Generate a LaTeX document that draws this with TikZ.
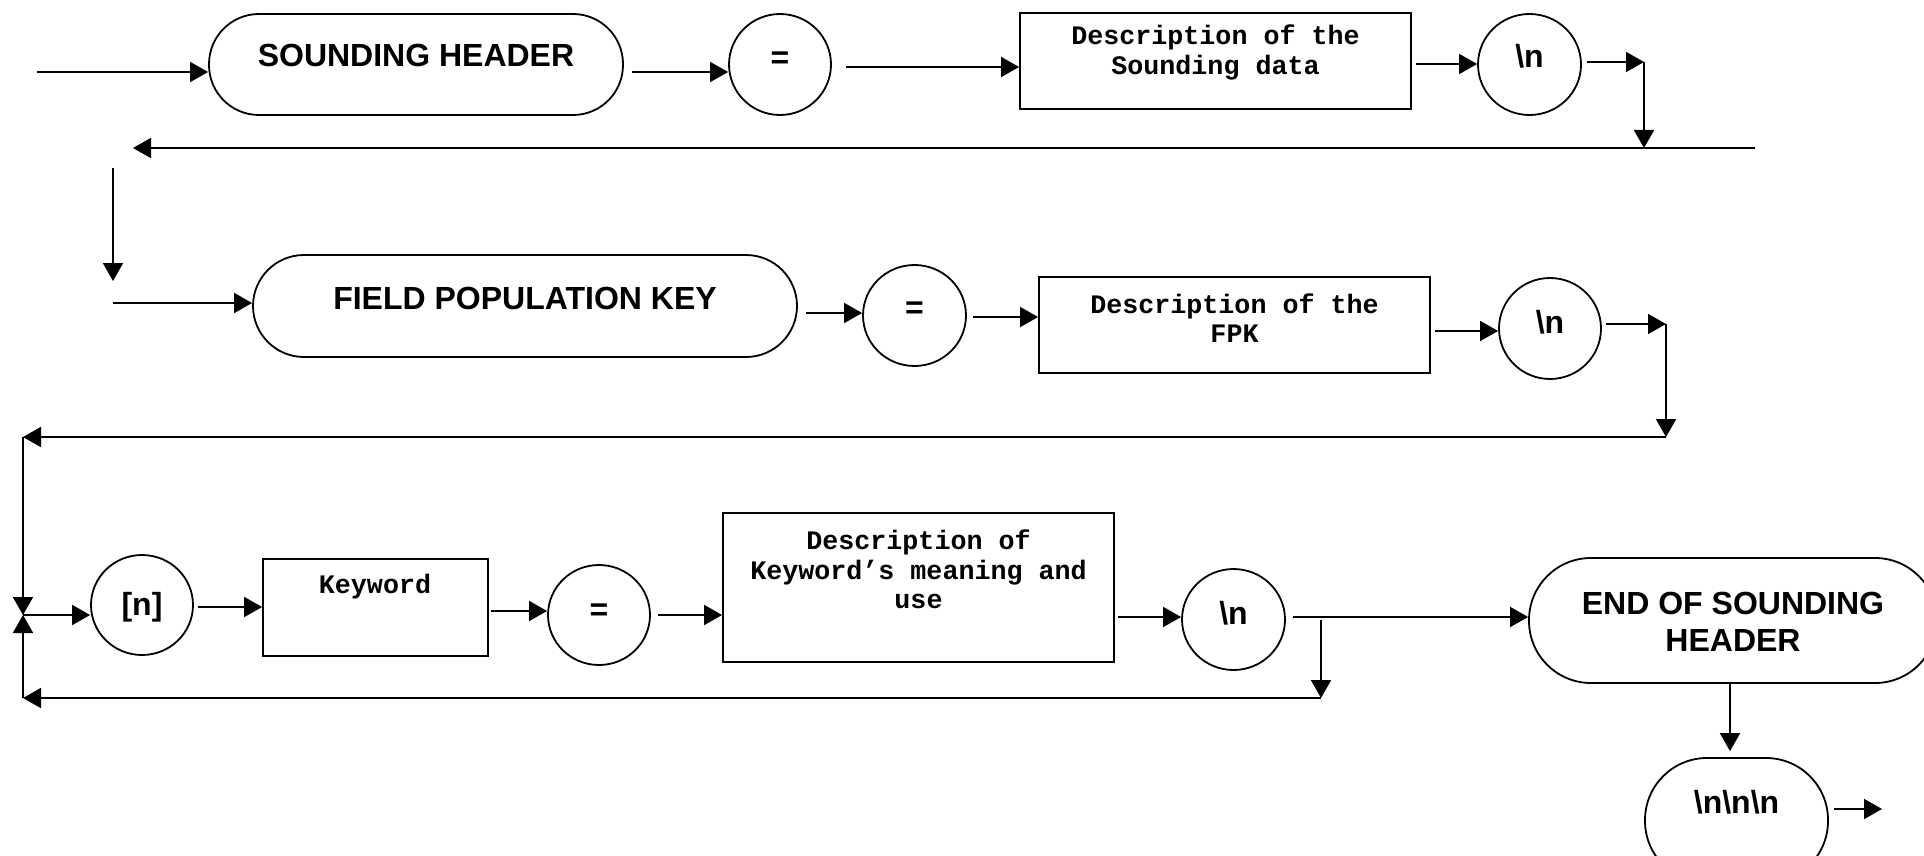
\documentclass[tikz,border=0pt]{standalone}
\usepackage{fontspec}
\setmainfont{Liberation Sans}
\newfontfamily\descfont{Liberation Mono}
\usetikzlibrary{arrows.meta,shapes.geometric}

\begin{document}
\begin{tikzpicture}[x=1pt,y=-1pt,line width=1.8pt,
  term/.style={draw,rectangle,rounded corners=#1,inner sep=0pt},
  oval/.style={draw,ellipse,inner sep=0pt,minimum width=102pt,minimum height=101pt},
  boxed/.style={draw,rectangle,inner sep=0pt},
  arr/.style={-{Triangle[length=18pt,width=20pt]}},
  lbl/.style={font=\bfseries\fontsize{32}{37}\selectfont,align=center,inner sep=0pt},
  mono/.style={font=\descfont\bfseries\fontsize{26.7}{29.5}\selectfont,align=center,inner sep=0pt}]

\fill[white] (0,0) rectangle (1924,856);
\useasboundingbox (0,0) rectangle (1924,856);
\clip (0,0) rectangle (1924,856);

% ---------- first row: sounding header ----------
\node[term=50pt,minimum width=414pt,minimum height=101pt] (sh) at (416,64.5) {};
\node[lbl] (shT) at (416,55) {SOUNDING HEADER};
\node[oval] (eq1) at (780,64.5) {};
\node[lbl] (eq1T) at (780,60) {=};
\node[boxed,minimum width=391pt,minimum height=96pt] (d1) at (1215.5,61) {};
\node[mono] (d1T) at (1215.5,52.5) {Description of the\\Sounding data};
\node[oval,minimum width=103pt] (n1) at (1529.5,64.5) {};
\node[lbl] (n1T) at (1529.5,56) {\textbackslash n};

\coordinate (in0) at (37,72);
\draw[arr] (in0) -- (in0 -| sh.west);
\draw[arr,shorten <=8pt] (sh.east |- 0,72) -- (eq1.west |- 0,72);
\draw[arr,shorten <=14pt] (eq1.east |- 0,67) -- (d1.west |- 0,67);
\draw[arr,shorten <=4pt] (d1.east |- 0,64) -- (n1.west |- 0,64);
\coordinate (c1) at (1644,62);
\coordinate (c2) at (1644,148);
\draw[arr,shorten <=5pt] (n1.east |- c1) -- (c1);
\draw[arr] (c1) -- (c2);
\coordinate (r1) at (1755,148);
\coordinate (l1) at (133,148);
\draw[arr] (r1) -- (l1);
\coordinate (v1) at (113,168);
\coordinate (v2) at (113,281);
\draw[arr] (v1) -- (v2);

% ---------- second row: field population key ----------
\node[term=51pt,minimum width=544pt,minimum height=102pt] (fpk) at (525,306) {};
\node[lbl] (fpkT) at (525,298) {FIELD POPULATION KEY};
\node[oval,minimum width=103pt] (eq2) at (914.5,315.5) {};
\node[lbl] (eq2T) at (914.5,310) {=};
\node[boxed,minimum width=391pt,minimum height=96pt] (d2) at (1234.5,325) {};
\node[mono] (d2T) at (1234.5,318) {Description of the\\FPK};
\node[oval] (n2) at (1550,328.5) {};
\node[lbl] (n2T) at (1550,322) {\textbackslash n};

\coordinate (in1) at (113,303);
\draw[arr] (in1) -- (in1 -| fpk.west);
\draw[arr,shorten <=8pt] (fpk.east |- 0,313) -- (eq2.west |- 0,313);
\draw[arr,shorten <=6pt] (eq2.east |- 0,317) -- (d2.west |- 0,317);
\draw[arr,shorten <=4pt] (d2.east |- 0,331) -- (n2.west |- 0,331);
\coordinate (c3) at (1666,324);
\coordinate (c4) at (1666,437);
\draw[arr,shorten <=4pt] (n2.east |- c3) -- (c3);
\draw[arr] (c3) -- (c4);
\coordinate (t) at (23,437);
\draw[arr] (c4) -- (t);

% ---------- third row: keywords ----------
\node[oval,minimum height=100pt] (brn) at (142,605) {};
\node[lbl] (brnT) at (142,607) {[n]};
\node[boxed,minimum width=225pt,minimum height=97pt] (kw) at (375.5,607.5) {};
\node[mono] (kwT) at (375,587) {Keyword};
\node[oval,minimum height=100pt] (eq3) at (599,615) {};
\node[lbl] (eq3T) at (599,612) {=};
\node[boxed,minimum width=391pt,minimum height=149pt] (d3) at (918.5,587.5) {};
\node[mono] (d3T) at (918.5,569.5) {Description of\\Keyword’s meaning and\\use};
\node[oval,minimum width=103pt] (n3) at (1233.5,619.5) {};
\node[lbl] (n3T) at (1233.5,613) {\textbackslash n};
\node[term=62pt,minimum width=408pt,minimum height=125pt] (eosh) at (1733,620.5) {};
\node[lbl] (eoshT) at (1733,621.5) {END OF SOUNDING\\HEADER};
\node[term=62pt,minimum width=183pt,minimum height=125pt] (nnn) at (1736.5,820.5) {};
\node[lbl] (nnnT) at (1736.5,802) {\textbackslash n\textbackslash n\textbackslash n};

\coordinate (j) at (23,615);
\coordinate (b) at (23,698);
\draw[arr] (t) -- (j);
\draw[arr] (b) -- (j);
\draw[arr] (j) -- (j -| brn.west);
\draw[arr,shorten <=4pt] (brn.east |- 0,607) -- (kw.west |- 0,607);
\draw[arr,shorten <=2pt] (kw.east |- 0,611) -- (eq3.west |- 0,611);
\draw[arr,shorten <=7pt] (eq3.east |- 0,615) -- (d3.west |- 0,615);
\draw[arr,shorten <=3pt] (d3.east |- 0,617) -- (n3.west |- 0,617);
\draw[arr,shorten <=7pt] (n3.east |- 0,617) -- (eosh.west |- 0,617);
\coordinate (k1) at (1321,620);
\coordinate (k2) at (1321,698);
\draw[arr] (k1) -- (k2);
\draw[arr] (k2) -- (b);
\draw[arr,shorten >=6pt] (eosh.south -| 1730,0) -- (nnn.north -| 1730,0);
\coordinate (out) at (1882,809);
\draw[arr,shorten <=5pt] (nnn.east |- out) -- (out);

\end{tikzpicture}
\end{document}
